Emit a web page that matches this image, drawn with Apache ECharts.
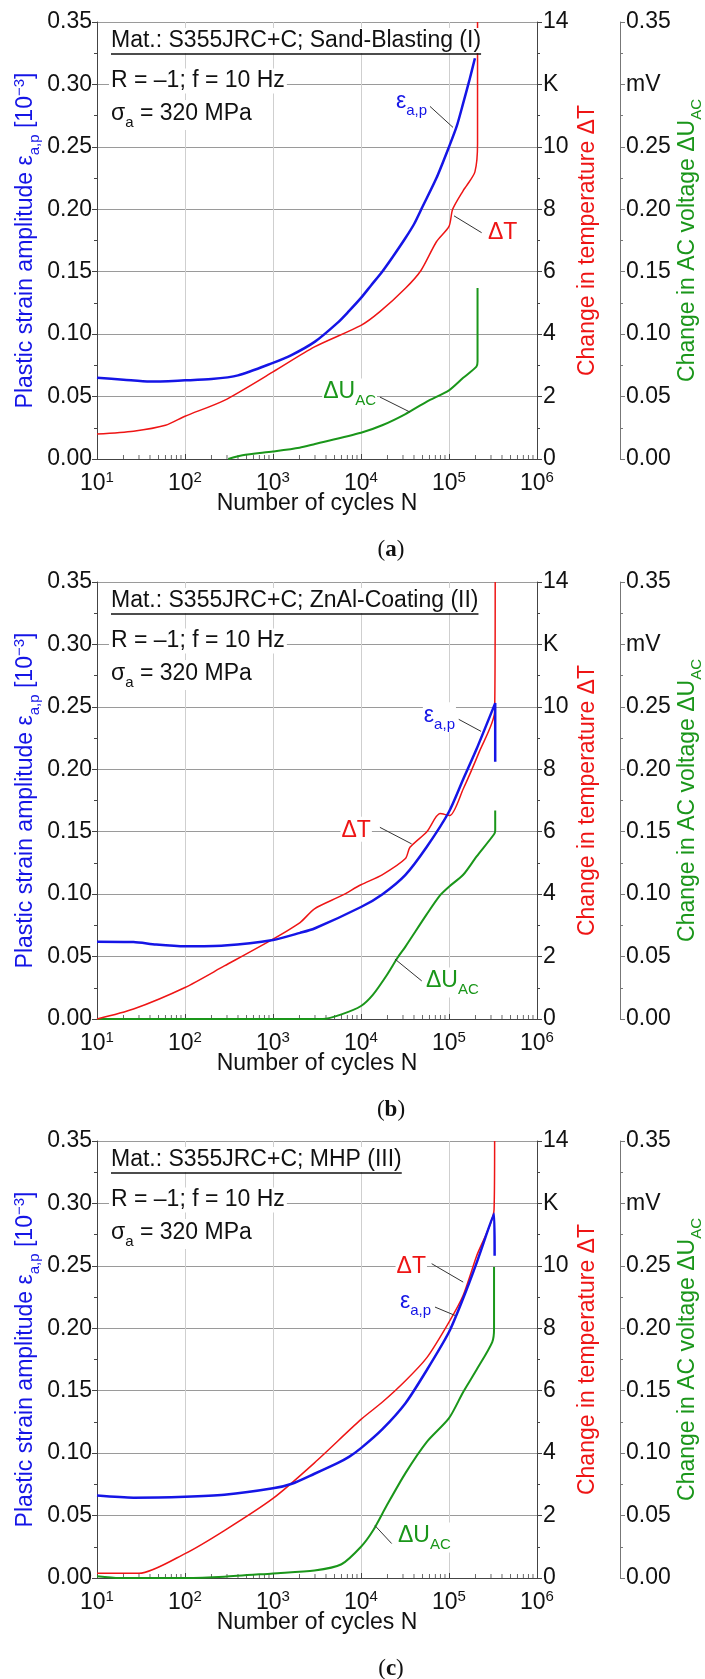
<!DOCTYPE html>
<html>
<head>
<meta charset="utf-8">
<title>Plastic strain amplitude, temperature and AC voltage vs. number of cycles</title>
<script src="https://cdn.jsdelivr.net/npm/echarts@6/dist/echarts.min.js"></script>
<style>
  html, body { margin: 0; padding: 0; background: #fff; }
  #chart { width: 705px; height: 1679px; }
</style>
</head>
<body>
<div id="chart"></div>
<script>
// values
// N = number of cycles, eps = plastic strain amplitude [1e-3], temp = change in temperature [K], volt = change in AC voltage [mV]

// (a) Sand-Blasting (I)
const aEpsN = [10, 20, 40, 100, 200, 400, 1000, 1600, 3000, 5400, 7200, 1e4, 1.3e4, 1.74e4, 2.3e4, 3.2e4, 4e4, 5e4, 7.2e4, 1e5, 1.23e5, 1.45e5, 1.7e5, 1.97e5];
const aEps = [0.065, 0.0635, 0.062, 0.063, 0.064, 0.067, 0.077, 0.083, 0.094, 0.109, 0.118, 0.129, 0.139, 0.15, 0.162, 0.177, 0.188, 0.202, 0.225, 0.25, 0.267, 0.285, 0.303, 0.321];
const aTempN = [10, 26, 60, 100, 280, 1000, 2960, 1e4, 1.64e4, 3.2e4, 4.8e4, 7.2e4, 1e5, 1.1e5, 1.45e5, 1.58e5, 1.97e5, 2.11e5, 2.11e5];
const aTemp = [0.8, 0.89, 1.08, 1.37, 1.88, 2.79, 3.59, 4.28, 4.72, 5.47, 6.04, 6.96, 7.45, 8.0, 8.6, 8.75, 9.2, 10.1, 14.0];
const aVoltN = [310, 450, 1000, 2000, 3000, 1e4, 1.74e4, 3.2e4, 5.6e4, 1e5, 1.45e5, 2.05e5, 2.11e5, 2.11e5];
const aVolt = [0.0, 0.003, 0.006, 0.009, 0.012, 0.021, 0.027, 0.036, 0.046, 0.055, 0.065, 0.074, 0.078, 0.137];

// (b) ZnAl-Coating (II)
const bEpsN = [10, 26, 47, 100, 280, 1000, 2030, 2960, 1e4, 1.74e4, 3.2e4, 5.6e4, 1e5, 1.45e5, 2.05e5, 3.35e5, 3.35e5];
const bEps = [0.0619, 0.0616, 0.0596, 0.0582, 0.0588, 0.0633, 0.069, 0.0725, 0.0897, 0.0998, 0.1155, 0.138, 0.166, 0.192, 0.216, 0.253, 0.206];
const bTempN = [10, 26, 100, 280, 1000, 2030, 2960, 6000, 1e4, 1.74e4, 3.2e4, 3.6e4, 5.6e4, 7.9e4, 1.02e5, 1.45e5, 2.2e5, 3.3e5, 3.35e5];
const bTemp = [0.0, 0.32, 1.01, 1.7, 2.56, 3.09, 3.53, 3.95, 4.3, 4.62, 5.14, 5.5, 6.0, 6.58, 6.52, 7.37, 8.55, 9.84, 14.0];
const bVoltN = [10, 3700, 6000, 1e4, 1.37e4, 1.96e4, 2.6e4, 3.2e4, 5.6e4, 7.9e4, 1e5, 1.45e5, 2.05e5, 3.25e5, 3.35e5, 3.35e5];
const bVolt = [0.0, 0.0, 0.0037, 0.0104, 0.0195, 0.035, 0.049, 0.058, 0.084, 0.099, 0.106, 0.1155, 0.13, 0.148, 0.151, 0.167];

// (c) MHP (III)
const cEpsN = [10, 26, 100, 280, 1000, 1640, 2960, 5400, 7300, 1e4, 1.74e4, 3.2e4, 5.6e4, 1e5, 1.45e5, 2.05e5, 3.25e5, 3.3e5];
const cEps = [0.066, 0.0643, 0.065, 0.0666, 0.0718, 0.0755, 0.0835, 0.092, 0.097, 0.104, 0.119, 0.14, 0.1666, 0.197, 0.224, 0.252, 0.292, 0.258];
const cTempN = [10, 30, 100, 280, 1000, 2960, 1e4, 1.74e4, 3.2e4, 5.6e4, 1e5, 1.45e5, 2.05e5, 3.25e5, 3.3e5];
const cTemp = [0.15, 0.15, 0.78, 1.52, 2.55, 3.69, 5.08, 5.63, 6.32, 7.06, 8.2, 9.06, 10.3, 11.8, 14.0];
const cVoltN = [10, 18, 100, 280, 1000, 2960, 6000, 1e4, 1.37e4, 1.96e4, 3.2e4, 5.6e4, 1e5, 1.45e5, 2.05e5, 3.1e5, 3.25e5, 3.25e5];
const cVolt = [0.0014, 0.0, 0.0, 0.001, 0.0037, 0.006, 0.011, 0.025, 0.038, 0.058, 0.084, 0.109, 0.128, 0.149, 0.1666, 0.189, 0.2, 0.249];

// axis ticks
const decadeTicks = [10, 100, 1000, 1e4, 1e5, 1e6];
const minorSteps = [2, 3, 4, 5, 6, 7, 8, 9];

const FONT = '"Liberation Sans", Arial, sans-serif';
const SERIF = '"Liberation Serif", "Times New Roman", serif';
const FS = 23;
const blue = "#1515e6";
const red = "#ee1515";
const green = "#1a961a";
const ink = "#111111";
const axisGray = "#444444";

const GRID_LEFT = 97;
const GRID_W = 440;
const GRID_H = 437;
const GRID_TOPS = [22, 582, 1141];

const panels = [
  {
    tag: "a", material: "Mat.: S355JRC+C; Sand-Blasting (I)",
    eps: [aEpsN, aEps], temp: [aTempN, aTemp], volt: [aVoltN, aVolt],
    notes: {
      eps: { at: [5.77e4, 0.2852], side: "left", line: [[6.08e4, 0.2824], [1.11e5, 0.2656]] },
      temp: { at: [2.7e5, 7.28], side: "right", line: [[2.35e5, 7.25], [1.14e5, 7.79]] },
      volt: { at: [1.52e4, 0.0524], side: "left", line: [[1.64e4, 0.0496], [3.6e4, 0.0376]] },
    },
  },
  {
    tag: "b", material: "Mat.: S355JRC+C; ZnAl-Coating (II)",
    eps: [bEpsN, bEps], temp: [bTempN, bTemp], volt: [bVoltN, bVolt],
    notes: {
      eps: { at: [1.2e5, 0.2416], side: "left", line: [[1.29e5, 0.24], [2.31e5, 0.2304]] },
      temp: { at: [1.33e4, 6.08], side: "left", line: [[1.64e4, 6.14], [3.76e4, 5.61]] },
      volt: { at: [5.33e4, 0.0293], side: "right", line: [[4.9e4, 0.0305], [2.43e4, 0.048]] },
    },
  },
  {
    tag: "c", material: "Mat.: S355JRC+C; MHP (III)",
    eps: [cEpsN, cEps], temp: [cTempN, cTemp], volt: [cVoltN, cVolt],
    notes: {
      eps: { at: [6.41e4, 0.2203], side: "left", line: [[6.93e4, 0.217], [1.17e5, 0.2103]] },
      temp: { at: [5.62e4, 10.02], side: "left", line: [[6.35e4, 10.07], [1.45e5, 9.48]] },
      volt: { at: [2.56e4, 0.0324], side: "right", line: [[2.23e4, 0.0276], [1.44e4, 0.042]] },
    },
  },
];

// rich text styles: m = main, sub = subscript, sup = superscript
function rich(color, size) {
  let s = Math.round(size * 0.64);
  let base = { fontFamily: FONT, color: color, fill: color, verticalAlign: "top" };
  return {
    m: Object.assign({}, base, { fontSize: size, padding: [2, 0, 0, 0], lineHeight: size + 2 }),
    sub: Object.assign({}, base, { fontSize: s, padding: [size - 8, 0, 0, 0], lineHeight: size - 8 + s }),
    sup: Object.assign({}, base, { fontSize: s, lineHeight: s }),
  };
}

function pairs(xs, ys) {
  return xs.map((x, i) => [x, ys[i]]);
}

function textWidth(str, font) {
  let ctx = document.createElement("canvas").getContext("2d");
  ctx.font = font;
  return ctx.measureText(str).width;
}

const minorTickN = [];
decadeTicks.slice(0, -1).forEach((d) => {
  minorSteps.forEach((k) => minorTickN.push(k * d));
});

const noteText = {
  eps: "{m|ε}{sub|a,p}",
  temp: "{m|ΔT}",
  volt: "{m|ΔU}{sub|AC}",
};

function lineSeries(i, key, axisIdx, color, width) {
  let p = panels[i];
  let note = p.notes[key];
  return {
    type: "line",
    xAxisIndex: i,
    yAxisIndex: axisIdx,
    data: pairs(p[key][0], p[key][1]),
    showSymbol: false,
    symbol: "none",
    smooth: 0.25,
    silent: true,
    clip: false,
    color: color,
    lineStyle: { color: color, width: width },
    z: 3,
    markPoint: {
      symbol: "circle",
      symbolSize: 0,
      silent: true,
      animation: false,
      label: {
        show: true,
        position: note.side,
        distance: 0,
        formatter: noteText[key],
        rich: rich(color, FS),
        backgroundColor: "#ffffff",
        padding: [0, 1],
      },
      data: [{ coord: note.at }],
    },
    markLine: {
      symbol: ["none", "none"],
      silent: true,
      animation: false,
      label: { show: false },
      lineStyle: { color: "#333333", width: 1, type: "solid" },
      data: [[{ coord: note.line[0] }, { coord: note.line[1] }]],
    },
  };
}

let xAxes = [];
let yAxes = [];
let series = [];
let graphics = [];

panels.forEach((p, i) => {
  let top = GRID_TOPS[i];

  xAxes.push({
    type: "log",
    gridIndex: i,
    logBase: 10,
    min: 10,
    max: 1e6,
    axisLine: { show: true, onZero: false, lineStyle: { color: axisGray, width: 1 } },
    axisTick: { show: true, inside: true, length: 5, lineStyle: { color: axisGray } },
    splitLine: { show: true, lineStyle: { color: "#cfcfcf", width: 1 } },
    axisLabel: {
      margin: 11,
      formatter: (v) => "{m|10}{sup|" + Math.round(Math.log10(v)) + "}",
      rich: rich(ink, FS),
    },
  });

  yAxes.push({
    type: "value",
    gridIndex: i,
    position: "left",
    min: 0,
    max: 0.35,
    interval: 0.05,
    axisLine: { show: true, lineStyle: { color: axisGray } },
    axisTick: { show: true, length: 5, lineStyle: { color: axisGray } },
    minorTick: { show: true, splitNumber: 2, length: 3, lineStyle: { color: axisGray } },
    splitLine: { show: true, lineStyle: { color: "#9a9a9a", width: 1 } },
    axisLabel: { margin: 5, fontFamily: FONT, fontSize: FS, color: ink, formatter: (v) => v.toFixed(2) },
  });
  yAxes.push({
    type: "value",
    gridIndex: i,
    position: "right",
    min: 0,
    max: 14,
    interval: 2,
    axisLine: { show: true, lineStyle: { color: axisGray } },
    axisTick: { show: true, length: 5, lineStyle: { color: axisGray } },
    minorTick: { show: true, splitNumber: 2, length: 3, lineStyle: { color: axisGray } },
    splitLine: { show: false },
    axisLabel: { margin: 6, fontFamily: FONT, fontSize: FS, color: ink, formatter: (v) => (v === 12 ? "K" : String(v)) },
  });
  yAxes.push({
    type: "value",
    gridIndex: i,
    position: "right",
    offset: 83,
    min: 0,
    max: 0.35,
    interval: 0.05,
    axisLine: { show: true, lineStyle: { color: "#777777" } },
    axisTick: { show: true, length: 5, lineStyle: { color: "#777777" } },
    minorTick: { show: true, splitNumber: 2, length: 3, lineStyle: { color: "#777777" } },
    splitLine: { show: false },
    axisLabel: {
      margin: 6,
      fontFamily: FONT,
      fontSize: FS,
      color: ink,
      formatter: (v) => (Math.abs(v - 0.3) < 1e-9 ? "mV" : v.toFixed(2)),
    },
  });

  // log minor ticks on the N axis
  series.push({
    type: "scatter",
    xAxisIndex: i,
    yAxisIndex: i * 3,
    data: minorTickN.map((n) => [n, 0]),
    symbol: "rect",
    symbolSize: [1, 4],
    symbolOffset: [0, -2],
    itemStyle: { color: axisGray },
    silent: true,
    clip: false,
    z: 1,
  });
  series.push(lineSeries(i, "volt", i * 3 + 2, green, 2));
  series.push(lineSeries(i, "temp", i * 3 + 1, red, 1.5));
  series.push(lineSeries(i, "eps", i * 3, blue, 2.5));

  let midY = top + GRID_H / 2;
  graphics.push(
    {
      type: "text", x: 27, y: midY, rotation: Math.PI / 2,
      style: {
        text: "{m|Plastic strain amplitude ε}{sub|a,p}{m| [10}{sup|−3}{m|]}",
        rich: rich(blue, FS), align: "center", verticalAlign: "middle",
      },
    },
    {
      type: "text", x: 587, y: midY, rotation: Math.PI / 2,
      style: { text: "{m|Change in temperature ΔT}", rich: rich(red, FS), align: "center", verticalAlign: "middle" },
    },
    {
      type: "text", x: 689, y: midY, rotation: Math.PI / 2,
      style: { text: "{m|Change in AC voltage ΔU}{sub|AC}", rich: rich(green, FS), align: "center", verticalAlign: "middle" },
    },
    {
      type: "text", x: GRID_LEFT + GRID_W / 2, y: top + 481.5,
      style: { text: "Number of cycles N", fontFamily: FONT, fontSize: FS, fill: ink, align: "center", verticalAlign: "middle" },
    },
    {
      type: "text", x: 391, y: top + 528,
      style: {
        text: "{p|(}{b|" + p.tag + "}{p|)}",
        rich: {
          p: { fontFamily: SERIF, fontSize: 23, fill: ink, color: ink },
          b: { fontFamily: SERIF, fontSize: 23, fontWeight: "bold", fill: ink, color: ink },
        },
        align: "center", verticalAlign: "middle",
      },
    },
    {
      type: "text", x: 109, y: top + 18.5, z: 10,
      style: {
        text: p.material, fontFamily: FONT, fontSize: FS, fill: ink,
        align: "left", verticalAlign: "middle", backgroundColor: "#ffffff", padding: [1, 2],
      },
    },
    {
      type: "line", z: 11,
      shape: { x1: 111, y1: top + 32, x2: 111 + textWidth(p.material, FS + "px " + FONT), y2: top + 32 },
      style: { stroke: ink, lineWidth: 1.3 },
    },
    {
      type: "text", x: 109, y: top + 59, z: 10,
      style: {
        text: "R = –1; f = 10 Hz", fontFamily: FONT, fontSize: FS, fill: ink,
        align: "left", verticalAlign: "middle", backgroundColor: "#ffffff", padding: [1, 2],
      },
    },
    {
      type: "text", x: 109, y: top + 93, z: 10,
      style: {
        text: "{m|σ}{sub|a}{m| = 320 MPa}", rich: rich(ink, FS),
        align: "left", verticalAlign: "middle", backgroundColor: "#ffffff", padding: [0, 2],
      },
    }
  );
});

let option = {
  animation: false,
  backgroundColor: "#ffffff",
  textStyle: { fontFamily: FONT },
  grid: GRID_TOPS.map((t) => ({ left: GRID_LEFT, top: t, width: GRID_W, height: GRID_H })),
  xAxis: xAxes,
  yAxis: yAxes,
  series: series,
  graphic: graphics,
};

let dom = echarts.init(document.getElementById("chart"), null, { renderer: "canvas" });
dom.setOption(option);
window.addEventListener("resize", () => dom.resize());
</script>
</body>
</html>
